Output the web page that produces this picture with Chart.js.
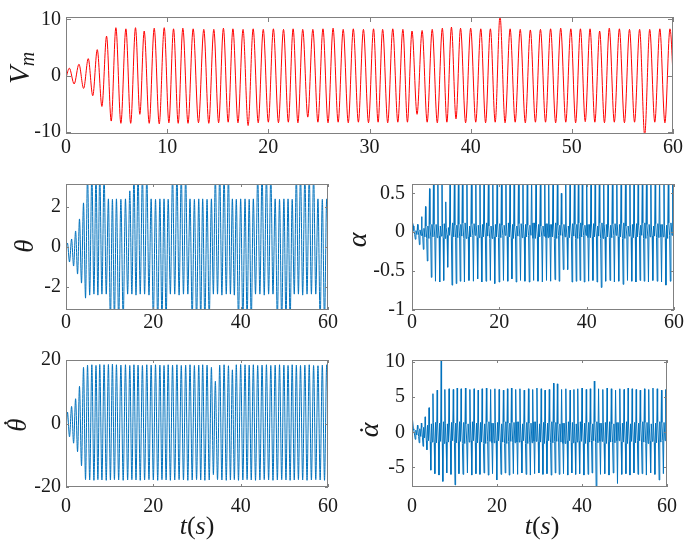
<!DOCTYPE html>
<html>
<head>
<meta charset="utf-8">
<script src="https://cdn.jsdelivr.net/npm/chart.js@4.4.0/dist/chart.umd.min.js"></script>
<style>
    body { margin: 0; background: #fff; }
    #wrap { position: relative; width: 685px; height: 542px; }
    #wrap canvas { position: absolute; left: 0; top: 0; }
</style>
</head>
<body>
<div id="wrap">
    <canvas id="vmChart" width="685" height="542"></canvas>
    <canvas id="thetaChart" width="685" height="542"></canvas>
    <canvas id="alphaChart" width="685" height="542"></canvas>
    <canvas id="thetaDotChart" width="685" height="542"></canvas>
    <canvas id="alphaDotChart" width="685" height="542"></canvas>
</div>
<script>
// Peak times of each oscillation cycle (s)
const cycleTimes = [0.33, 1.28, 2.2, 3.09, 4.01, 4.93, 5.92, 6.87, 7.73, 8.72,
    9.71, 10.63, 11.55, 12.57, 13.62, 14.61, 15.56, 16.5, 17.5, 18.5,
    19.5, 20.5, 21.5, 22.45, 23.4, 24.4, 25.4, 26.4, 27.4, 28.4,
    29.4, 30.4, 31.3, 32.3, 33.3, 34.2, 35.2, 36.2, 37.2, 38.1,
    39.0, 40.0, 41.0, 41.95, 42.9, 43.9, 44.9, 45.9, 46.9, 47.9,
    48.9, 49.9, 50.85, 51.8, 52.75, 53.7, 54.7, 55.7, 56.7, 57.7,
    58.7, 59.7];

// V_m: maximum and minimum of each cycle
const vmPeaks = [1.3, 2.0, 3.0, 4.6, 7.0, 8.5, 8.3, 8.5, 7.9, 8.4,
    8.5, 8.3, 8.4, 8.3, 8.2, 8.2, 8.4, 8.3, 8.2, 8.3,
    8.2, 8.3, 8.2, 8.3, 8.2, 8.2, 8.3, 8.4, 8.2, 8.3,
    8.2, 8.3, 8.2, 8.3, 8.2, 7.9, 8.0, 8.2, 8.4, 8.6,
    8.4, 8.4, 8.3, 8.3, 10.6, 8.3, 8.2, 8.1, 8.2, 8.3,
    8.4, 8.3, 8.3, 8.3, 7.9, 8.4, 8.3, 8.2, 8.2, 8.2,
    8.3, 8.3];
const vmTroughs = [-1.5, -2.3, -3.6, -5.5, -8.1, -8.5, -8.5, -6.9, -8.5, -8.6,
    -8.4, -8.5, -8.5, -8.4, -8.5, -8.4, -8.3, -8.4, -8.9, -8.4,
    -8.3, -8.4, -8.3, -8.4, -7.4, -8.3, -8.4, -8.3, -8.4, -8.3,
    -8.4, -8.3, -8.4, -8.3, -8.3, -6.9, -8.3, -8.4, -8.3, -7.7,
    -8.4, -8.3, -8.4, -8.3, -8.4, -8.3, -8.4, -8.3, -8.3, -8.4,
    -8.3, -8.4, -8.2, -8.3, -8.4, -8.3, -8.4, -8.3, -10.6, -8.3,
    -8.4, -8.3];

// theta (rad): values beyond +-pi run off the axes
const thetaPeaks = [0.2, 0.4, 0.8, 1.4, 2.2, 3.6, 3.7, 3.6, 3.7, 3.6,
    2.4, 2.38, 2.4, 2.38, 2.4, 2.8, 3.6, 3.7, 3.6, 3.6,
    2.4, 2.38, 2.4, 2.4, 2.38, 3.6, 3.7, 3.6, 3.6, 2.4,
    2.38, 2.4, 2.4, 2.38, 2.4, 3.6, 3.7, 3.6, 3.6, 2.4,
    2.38, 2.4, 2.4, 2.38, 2.4, 3.6, 3.7, 3.6, 3.6, 2.4,
    2.38, 2.4, 2.4, 2.38, 3.6, 3.7, 3.6, 3.6, 3.6, 2.4,
    2.38, 2.4];
const thetaTroughs = [-0.75, -0.95, -1.35, -1.8, -2.55, -2.4, -2.35, -2.4, -2.35, -2.35,
    -3.7, -3.6, -3.7, -3.6, -2.35, -2.35, -2.4, -2.35, -2.35, -2.4,
    -3.6, -3.7, -3.6, -3.7, -2.35, -2.35, -2.4, -2.35, -2.35, -3.6,
    -3.7, -3.6, -3.7, -3.6, -2.35, -2.35, -2.4, -2.35, -2.35, -2.4,
    -3.6, -3.7, -3.6, -3.7, -2.35, -2.35, -2.4, -2.35, -2.35, -3.6,
    -3.7, -3.6, -3.7, -2.35, -2.35, -2.4, -2.35, -2.35, -2.35, -3.6,
    -3.7, -2.35];

// alpha (rad): one upward and one downward spike per cycle, small ripple between
const alphaUp = [0.08, 0.1, 0.2, 0.33, 0.56, 0.8, 0.8, 0.8, 0.39, 0.8,
    0.8, 0.8, 0.8, 0.8, 0.8, 0.8, 0.8, 0.8, 0.8, 0.8,
    0.8, 0.8, 0.8, 0.8, 0.8, 0.8, 0.8, 0.8, 0.8, 0.8,
    0.8, 0.8, 0.8, 0.8, 0.8, 0.5, 0.8, 0.8, 0.8, 0.8,
    0.8, 0.8, 0.8, 0.8, 0.8, 0.8, 0.8, 0.8, 0.8, 0.8,
    0.8, 0.8, 0.8, 0.8, 0.8, 0.8, 0.8, 0.8, 0.8, 0.8,
    0.8, 0.8];
const alphaDown = [-0.09, -0.16, -0.22, -0.37, -0.58, -0.63, -0.64, -0.62, -0.45, -0.68,
    -0.66, -0.63, -0.64, -0.62, -0.63, -0.6, -0.64, -0.63, -0.62, -0.66,
    -0.64, -0.62, -0.63, -0.6, -0.64, -0.62, -0.63, -0.64, -0.62, -0.63,
    -0.64, -0.62, -0.63, -0.61, -0.63, -0.48, -0.48, -0.64, -0.63, -0.62,
    -0.64, -0.63, -0.62, -0.64, -0.71, -0.63, -0.62, -0.64, -0.63, -0.67,
    -0.62, -0.63, -0.64, -0.62, -0.63, -0.64, -0.62, -0.63, -0.64, -0.68,
    -0.63, -0.62];
const alphaRippleHi = [0.02, 0.03, 0.05, 0.08, 0.1, 0.1, 0.08, 0.11, 0.06, 0.12,
    0.09, 0.1, 0.12, 0.08, 0.11, 0.09, 0.1, 0.12, 0.08, 0.1,
    0.11, 0.09, 0.12, 0.1, 0.08, 0.11, 0.1, 0.09, 0.12, 0.1,
    0.08, 0.11, 0.1, 0.12, 0.09, 0.1, 0.08, 0.11, 0.1, 0.12,
    0.09, 0.1, 0.11, 0.08, 0.12, 0.1, 0.09, 0.11, 0.1, 0.12,
    0.08, 0.1, 0.11, 0.09, 0.12, 0.1, 0.08, 0.11, 0.1, 0.09,
    0.12, 0.1];
const alphaRippleLo = [-0.03, -0.04, -0.06, -0.08, -0.06, -0.07, -0.05, -0.08, -0.04, -0.06,
    -0.07, -0.05, -0.08, -0.06, -0.04, -0.07, -0.06, -0.05, -0.08, -0.06,
    -0.07, -0.04, -0.06, -0.08, -0.05, -0.07, -0.06, -0.04, -0.08, -0.06,
    -0.05, -0.07, -0.06, -0.08, -0.04, -0.06, -0.07, -0.05, -0.08, -0.06,
    -0.04, -0.07, -0.06, -0.05, -0.08, -0.06, -0.07, -0.04, -0.06, -0.08,
    -0.05, -0.07, -0.06, -0.04, -0.08, -0.06, -0.05, -0.07, -0.06, -0.08,
    -0.04, -0.06];

// theta dot (rad/s)
const thetaDotPeaks = [3.6, 5.4, 7.8, 11.7, 17.7, 18.4, 18.5, 18.3, 18.6, 18.5,
    18.6, 18.7, 18.5, 18.4, 18.5, 18.3, 18.5, 18.4, 18.3, 18.5,
    18.4, 18.5, 18.4, 18.3, 18.5, 18.4, 18.5, 18.3, 18.4, 18.5,
    18.3, 18.4, 18.5, 18.4, 17.7, 13.3, 18.4, 18.5, 18.2, 16.9,
    18.5, 18.6, 18.5, 18.4, 18.5, 18.3, 18.4, 18.5, 18.3, 18.4,
    18.5, 18.4, 18.3, 18.5, 18.4, 18.3, 18.4, 18.5, 18.3, 18.2,
    18.4, 18.5];
const thetaDotTroughs = [-4.2, -6.2, -8.9, -13.3, -17.7, -17.8, -17.9, -17.7, -17.8, -17.9,
    -17.8, -17.7, -17.8, -17.9, -17.8, -17.7, -17.8, -17.9, -17.8, -17.7,
    -17.8, -17.9, -17.7, -17.8, -17.9, -17.8, -17.7, -17.8, -17.9, -17.8,
    -17.7, -17.8, -17.9, -17.8, -16.1, -17.7, -17.8, -17.9, -17.8, -17.7,
    -17.9, -17.8, -17.7, -17.8, -17.9, -17.8, -17.7, -17.8, -17.9, -17.8,
    -17.7, -17.8, -17.9, -17.8, -17.7, -17.8, -17.9, -17.8, -17.7, -17.8,
    -17.9, -17.8];

// alpha dot (rad/s)
const alphaDotUp = [0.5, 1.0, 1.3, 2.2, 3.5, 5.5, 6.0, 10.6, 6.1, 6.2,
    6.1, 6.3, 6.2, 6.3, 6.1, 6.2, 6.0, 6.2, 6.3, 6.1,
    6.2, 6.1, 6.0, 6.2, 6.3, 6.1, 6.2, 6.0, 6.2, 6.1,
    6.3, 6.2, 6.0, 6.1, 7.0, 6.9, 6.1, 6.2, 6.0, 6.1,
    6.2, 6.3, 6.1, 6.2, 7.3, 6.2, 6.1, 6.3, 6.2, 6.0,
    6.2, 6.1, 6.3, 6.2, 6.1, 6.0, 6.2, 6.1, 6.3, 6.2,
    6.0, 6.1];
const alphaDotDown = [-1.0, -1.5, -2.0, -2.5, -5.4, -5.9, -6.1, -7.0, -5.8, -6.0,
    -7.5, -5.9, -6.0, -5.8, -6.1, -5.9, -6.0, -5.8, -6.1, -5.9,
    -6.8, -6.0, -5.8, -6.1, -5.9, -6.0, -5.8, -6.0, -6.1, -5.9,
    -5.8, -6.0, -5.9, -6.1, -5.8, -6.0, -5.9, -6.1, -5.8, -6.0,
    -5.9, -6.1, -6.0, -5.8, -8.6, -6.0, -5.9, -6.1, -5.8, -7.3,
    -6.0, -5.9, -6.1, -5.8, -6.0, -5.9, -6.1, -5.8, -6.0, -6.8,
    -5.9, -6.0];
const alphaDotRippleHi = [0.3, 0.5, 0.7, 1.0, 1.2, 1.4, 1.3, 1.5, 1.2, 1.4,
    1.3, 1.5, 1.4, 1.2, 1.5, 1.3, 1.4, 1.2, 1.5, 1.3,
    1.4, 1.2, 1.5, 1.3, 1.4, 1.5, 1.2, 1.4, 1.3, 1.5,
    1.2, 1.4, 1.3, 1.5, 1.4, 1.2, 1.3, 1.5, 1.4, 1.2,
    1.5, 1.3, 1.4, 1.2, 1.5, 1.3, 1.4, 1.5, 1.2, 1.4,
    1.3, 1.5, 1.2, 1.4, 1.3, 1.5, 1.4, 1.2, 1.3, 1.5,
    1.4, 1.3];
const alphaDotRippleLo = [-0.4, -0.6, -0.8, -1.2, -1.4, -1.5, -1.3, -1.6, -1.4, -1.2,
    -1.5, -1.3, -1.6, -1.4, -1.2, -1.5, -1.4, -1.6, -1.3, -1.5,
    -1.2, -1.4, -1.6, -1.3, -1.5, -1.4, -1.2, -1.6, -1.5, -1.3,
    -1.4, -1.6, -1.2, -1.5, -1.3, -1.4, -1.6, -1.2, -1.5, -1.4,
    -1.3, -1.6, -1.4, -1.2, -1.5, -1.3, -1.6, -1.4, -1.5, -1.2,
    -1.4, -1.6, -1.3, -1.5, -1.2, -1.4, -1.6, -1.3, -1.5, -1.4,
    -1.2, -1.5];

// Values at t = 0
const startValues = { vm: -0.4, theta: 0, alpha: 0.15, thetaDot: -2.9, alphaDot: 2.5 };

// Axis ticks
const timeTicksTop = [0, 10, 20, 30, 40, 50, 60];
const timeTicks = [0, 20, 40, 60];
const vmTicks = [-10, 0, 10];
const thetaTicks = [-2, 0, 2];
const alphaTicks = [-1, -0.5, 0, 0.5];
const thetaDotTicks = [-20, 0, 20];
const alphaDotTicks = [-5, 0, 5, 10];

const BLUE = '#0072BD';
const TEXT = '#1a1a1a';
const SERIF = '"Liberation Serif", "Times New Roman", serif';
const Y_AXIS_W = 56;
const X_AXIS_H = 40;

Chart.defaults.font.family = SERIF;

function cyclePeriod(i) {
    return i + 1 < cycleTimes.length ? cycleTimes[i + 1] - cycleTimes[i] : 0.98;
}

// Smooth oscillation: a maximum and a minimum per cycle
function waveSeries(start, peaks, troughs) {
    const pts = [{ x: 0, y: start }];
    cycleTimes.forEach((t, i) => {
        const p = cyclePeriod(i);
        pts.push({ x: t, y: peaks[i] });
        pts.push({ x: t + p / 2, y: troughs[i] });
    });
    return pts;
}

// Spiky signal: up spike, ripple, down spike, ripple in each cycle
function spikeSeries(start, ups, downs, hi, lo) {
    const pts = [{ x: 0, y: start }];
    cycleTimes.forEach((t, i) => {
        const p = cyclePeriod(i);
        pts.push({ x: t, y: ups[i] });
        pts.push({ x: t + p * 0.1, y: hi[i] });
        pts.push({ x: t + p * 0.3, y: lo[i] });
        pts.push({ x: t + p * 0.45, y: downs[i] });
        pts.push({ x: t + p * 0.6, y: hi[i] });
        pts.push({ x: t + p * 0.85, y: lo[i] });
    });
    return pts;
}

// Label drawn as pieces of text, optionally rotated
function drawLabel(ctx, spec) {
    ctx.save();
    ctx.translate(spec.x, spec.y);
    if (spec.rotate) ctx.rotate(-Math.PI / 2);
    ctx.fillStyle = TEXT;
    ctx.textBaseline = 'alphabetic';
    ctx.textAlign = 'left';
    let total = 0;
    spec.parts.forEach(p => {
        ctx.font = (p.italic ? 'italic ' : '') + p.size + 'px ' + SERIF;
        p.w = ctx.measureText(p.text).width;
        total += p.w;
    });
    let cx = -total / 2;
    spec.parts.forEach(p => {
        ctx.font = (p.italic ? 'italic ' : '') + p.size + 'px ' + SERIF;
        ctx.fillText(p.text, cx, p.dy || 0);
        if (p.dot) {
            ctx.font = p.size + 'px ' + SERIF;
            ctx.textAlign = 'center';
            ctx.fillText('\u02D9', cx + p.w / 2 + (p.dotDx || 0), p.dotDy || 0);
            ctx.textAlign = 'left';
        }
        cx += p.w;
    });
    ctx.restore();
}

// Box, inward ticks on all four sides, and axis labels
const framePlugin = {
    id: 'frame',
    afterDraw(chart, args, opts) {
        const { ctx, chartArea: a, scales } = chart;
        ctx.save();
        ctx.strokeStyle = '#808080';
        ctx.lineWidth = 1;
        ctx.beginPath();
        scales.x.ticks.forEach(tk => {
            const px = Math.round(scales.x.getPixelForValue(tk.value)) + 0.5;
            ctx.moveTo(px, a.bottom);
            ctx.lineTo(px, a.bottom - opts.tickLen);
            ctx.moveTo(px, a.top);
            ctx.lineTo(px, a.top + opts.tickLen);
        });
        scales.y.ticks.forEach(tk => {
            const py = Math.round(scales.y.getPixelForValue(tk.value)) + 0.5;
            ctx.moveTo(a.left, py);
            ctx.lineTo(a.left + opts.tickLen, py);
            ctx.moveTo(a.right, py);
            ctx.lineTo(a.right - opts.tickLen, py);
        });
        ctx.stroke();
        ctx.strokeRect(a.left + 0.5, a.top + 0.5, a.right - a.left - 1, a.bottom - a.top - 1);
        ctx.restore();
        (opts.labels || []).forEach(spec => drawLabel(ctx, spec));
    }
};

function makeChart(canvasId, cfg) {
    const box = cfg.box;
    new Chart(document.getElementById(canvasId), {
        type: 'line',
        data: {
            datasets: [{
                data: cfg.points,
                borderColor: cfg.color,
                borderWidth: 1,
                pointRadius: 0,
                fill: false,
                tension: cfg.smooth ? 0.4 : 0,
                cubicInterpolationMode: cfg.smooth ? 'monotone' : 'default'
            }]
        },
        options: {
            responsive: false,
            animation: false,
            devicePixelRatio: 1,
            events: [],
            layout: {
                padding: {
                    left: box[0] - Y_AXIS_W,
                    top: box[1],
                    right: 685 - box[2],
                    bottom: 542 - box[3] - X_AXIS_H
                }
            },
            plugins: {
                legend: { display: false },
                tooltip: { enabled: false },
                frame: { tickLen: cfg.tickLen, labels: cfg.labels }
            },
            scales: {
                x: {
                    type: 'linear',
                    min: 0,
                    max: 60,
                    afterBuildTicks: s => { s.ticks = cfg.xTicks.map(v => ({ value: v })); },
                    afterFit: s => { s.height = X_AXIS_H; },
                    grid: { display: false, drawTicks: false },
                    border: { display: false },
                    ticks: { font: { family: SERIF, size: 20 }, color: TEXT, padding: cfg.xPad, maxRotation: 0, autoSkip: false }
                },
                y: {
                    type: 'linear',
                    min: cfg.yMin,
                    max: cfg.yMax,
                    afterBuildTicks: s => { s.ticks = cfg.yTicks.map(v => ({ value: v })); },
                    afterFit: s => { s.width = Y_AXIS_W; },
                    grid: { display: false, drawTicks: false },
                    border: { display: false },
                    ticks: { font: { family: SERIF, size: 20 }, color: TEXT, padding: cfg.yPad, autoSkip: false, callback: v => String(v) }
                }
            }
        },
        plugins: [framePlugin]
    });
}

const tLabel = x => ({
    x: x, y: 534, rotate: false,
    parts: [
        { text: 't', size: 26, italic: true },
        { text: '(', size: 26 },
        { text: 's', size: 26, italic: true },
        { text: ')', size: 26 }
    ]
});

makeChart('vmChart', {
    box: [66, 8, 674, 134],
    points: waveSeries(startValues.vm, vmPeaks, vmTroughs),
    color: '#FF0000', smooth: true,
    yMin: -10.4, yMax: 10.4, yTicks: vmTicks, xTicks: timeTicksTop,
    tickLen: 5, xPad: 2, yPad: 5,
    labels: [{ x: 29, y: 68, rotate: true, parts: [
        { text: 'V', size: 29, italic: true },
        { text: 'm', size: 20, italic: true, dy: 5 }
    ] }]
});

makeChart('thetaChart', {
    box: [66, 184, 328, 310],
    points: waveSeries(startValues.theta, thetaPeaks, thetaTroughs),
    color: BLUE, smooth: true,
    yMin: -3.1416, yMax: 3.1416, yTicks: thetaTicks, xTicks: timeTicks,
    tickLen: 3, xPad: 1, yPad: 5,
    labels: [{ x: 33, y: 246, rotate: true, parts: [{ text: 'θ', size: 27, italic: true }] }]
});

makeChart('alphaChart', {
    box: [412, 184, 675, 310],
    points: spikeSeries(startValues.alpha, alphaUp, alphaDown, alphaRippleHi, alphaRippleLo),
    color: BLUE, smooth: false,
    yMin: -1, yMax: 0.62, yTicks: alphaTicks, xTicks: timeTicks,
    tickLen: 3, xPad: 1, yPad: 7,
    labels: [{ x: 366, y: 240, rotate: true, parts: [{ text: 'α', size: 28, italic: true }] }]
});

makeChart('thetaDotChart', {
    box: [66, 360, 328, 487],
    points: waveSeries(startValues.thetaDot, thetaDotPeaks, thetaDotTroughs),
    color: BLUE, smooth: true,
    yMin: -20, yMax: 20, yTicks: thetaDotTicks, xTicks: timeTicks,
    tickLen: 3, xPad: 8, yPad: 5,
    labels: [
        { x: 26, y: 425, rotate: true, parts: [{ text: 'θ', size: 27, italic: true, dot: true, dotDy: -4, dotDx: 2 }] },
        tLabel(197)
    ]
});

makeChart('alphaDotChart', {
    box: [412, 360, 675, 487],
    points: spikeSeries(startValues.alphaDot, alphaDotUp, alphaDotDown, alphaDotRippleHi, alphaDotRippleLo),
    color: BLUE, smooth: false,
    yMin: -7.8, yMax: 10.3, yTicks: alphaDotTicks, xTicks: timeTicks,
    tickLen: 3, xPad: 8, yPad: 7,
    labels: [
        { x: 378, y: 430, rotate: true, parts: [{ text: 'α', size: 28, italic: true, dot: true }] },
        tLabel(542)
    ]
});
</script>
</body>
</html>
